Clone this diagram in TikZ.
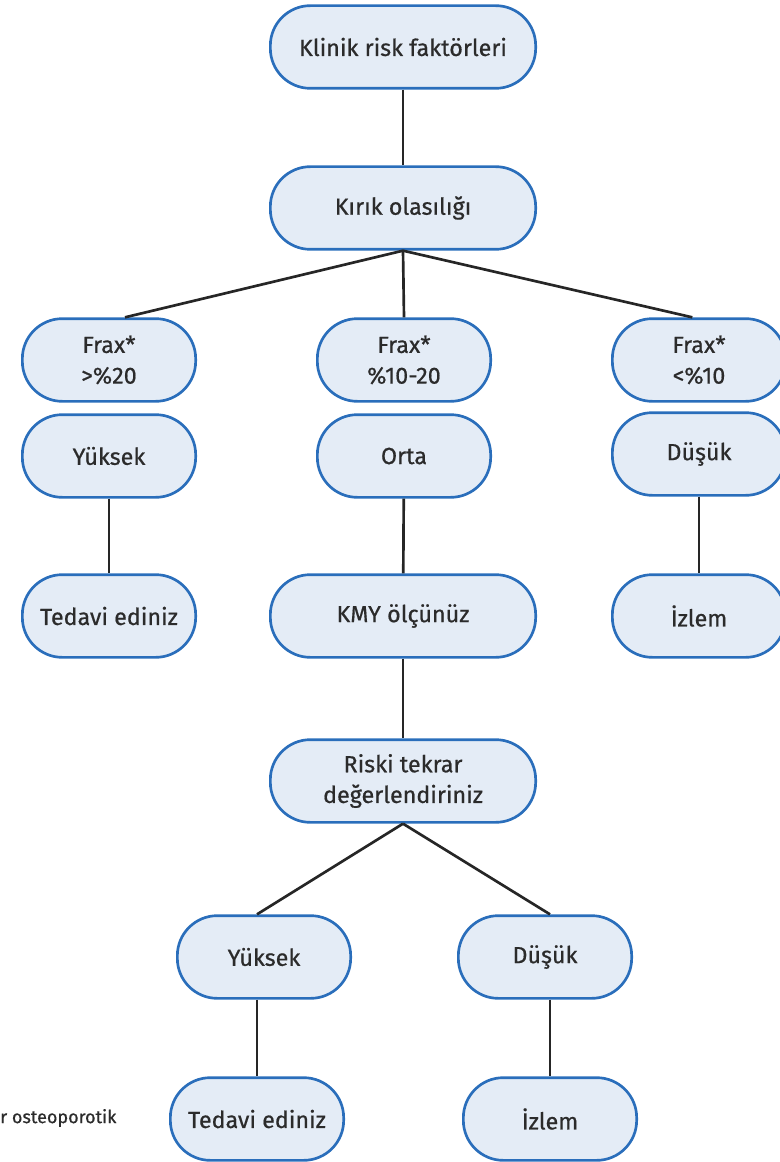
\documentclass[tikz,border=0pt]{standalone}
\usepackage{fontspec}
\setmainfont{Fira Sans}
\newfontfamily\pillfont{Fira Sans}[FakeBold=0.6]
\usetikzlibrary{positioning}

\definecolor{boxline}{HTML}{2A6EBB}
\definecolor{boxfill}{HTML}{E4ECF6}
\definecolor{txt}{HTML}{2B2B2B}

\tikzset{
  pill/.style={draw=boxline, fill=boxfill, line width=2pt, rounded corners=30pt,
    minimum height=62pt, align=center, text=txt,
    font=\pillfont\fontsize{17.5}{23}\selectfont},
  widepill/.style={pill, minimum width=199pt},
  smallpill/.style={pill, minimum width=130pt},
  link/.style={line width=2pt, black!85}
}

\begin{document}
\begin{tikzpicture}[x=0.75pt,y=-0.75pt]
                \useasboundingbox (0,0) rectangle (780,1162);
                \clip (0,0) rectangle (780,1162);

                \node[widepill] (klinik) at (403,47) {Klinik risk faktörleri};
                \node[widepill] (kirik) at (403,208) {Kırık olasılığı};

                \node[smallpill] (fraxA) at (109,360) {Frax*\\>\%20};
                \node[smallpill] (fraxB) at (404,360) {Frax*\\\%10-20};
                \node[smallpill] (fraxC) at (699,360) {Frax*\\<\%10};

                \node[smallpill] (yuksekA) at (109,456) {Yüksek};
                \node[smallpill] (orta) at (404,456) {Orta};
                \node[smallpill] (dusukA) at (699,454) {Düşük};

                \node[smallpill] (tedaviA) at (109,616) {Tedavi ediniz};
                \node[widepill] (kmy) at (403,616) {KMY ölçünüz};
                \node[smallpill] (izlemA) at (699,616) {İzlem};

                \node[widepill] (riski) at (403,781) {Riski tekrar\\değerlendiriniz};

                \node[smallpill] (yuksekB) at (264,957) {Yüksek};
                \node[smallpill] (dusukB) at (545,957) {Düşük};
                \node[smallpill] (tedaviB) at (257,1119) {Tedavi ediniz};
                \node[smallpill] (izlemB) at (550,1119) {İzlem};

                \node[anchor=west, inner sep=0pt, text=txt, font=\pillfont\fontsize{13.5}{15}\selectfont] (note) at (0,1118) {r osteoporotik};

                \draw[link] (klinik) -- (kirik);
                \draw[link] (kirik.south) -- ([xshift=12pt]fraxA.north);
                \draw[link] (kirik.south) -- (fraxB.north);
                \draw[link] (kirik.south) -- ([xshift=-5pt]fraxC.north);
                \draw[link] (yuksekA) -- (tedaviA);
                \draw[link] (orta) -- (kmy);
                \draw[link] (dusukA) -- (izlemA);
                \draw[link] (kmy) -- (riski);
                \draw[link] (riski.south) -- (yuksekB.north -| tedaviB);
                \draw[link] (riski.south) -- (dusukB.north -| izlemB);
                \draw[link] (yuksekB.south -| tedaviB) -- (tedaviB);
                \draw[link] (dusukB.south -| izlemB) -- (izlemB);
\end{tikzpicture}
\end{document}
